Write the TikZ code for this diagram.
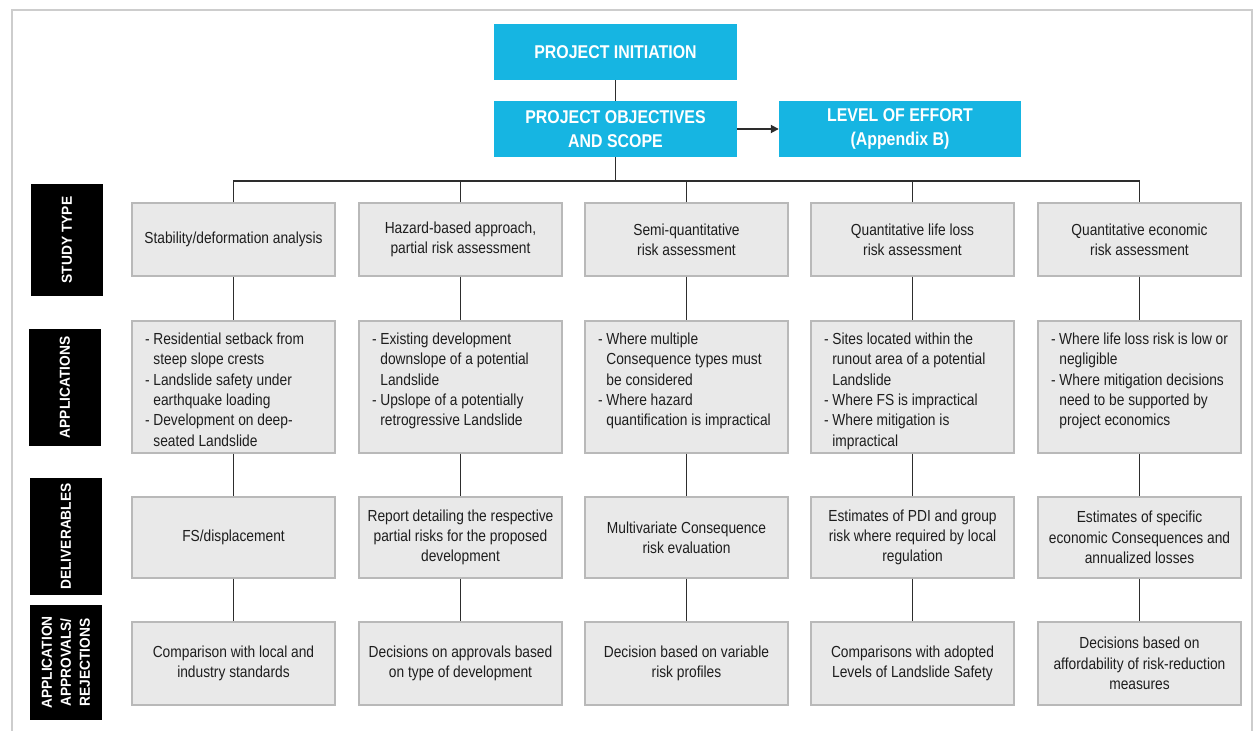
\documentclass[tikz,border=0pt]{standalone}
\usepackage{fontspec}
\setmainfont{Liberation Sans}[FakeStretch=0.86]
\newfontfamily\lblfont{Liberation Sans}[FakeStretch=0.95]
\usetikzlibrary{arrows.meta}
\definecolor{cyanbox}{RGB}{22,181,226}
\definecolor{grayfill}{RGB}{233,233,233}
\definecolor{grayline}{RGB}{185,185,185}
\definecolor{conn}{RGB}{45,45,45}
\definecolor{framecol}{RGB}{205,205,205}
\definecolor{txt}{RGB}{30,30,30}
\newcommand\ind{\phantom{-\ }}
\newcommand\apptext[1]{\parbox[c][108pt][t]{177pt}{\raggedright #1}}
\begin{document}
\begin{tikzpicture}[x=1pt,y=-1pt,
 hbox/.style={fill=cyanbox, text=white, font=\fontsize{18.5}{24}\selectfont\bfseries, align=center, minimum width=243pt, minimum height=56pt, inner sep=0pt},
 gbox/.style={fill=grayfill, draw=grayline, line width=1.3pt, text=txt, font=\fontsize{16}{20.3}\selectfont, align=center, minimum width=203pt, inner sep=0pt},
 abox/.style={fill=grayfill, draw=grayline, line width=1.3pt, text=txt, font=\fontsize{16}{20.3}\selectfont, minimum width=203pt, minimum height=132pt, inner xsep=13pt, inner ysep=12pt},
 lbl/.style={fill=black, text=white, font=\lblfont\fontsize{14.5}{19}\selectfont\bfseries, align=center, rotate=90, inner sep=0pt, minimum height=72pt},
 link/.style={draw=conn, line width=1.8pt}]
\useasboundingbox (0,0) rectangle (1254,731);
\draw[framecol, line width=1.5pt] (12,731) -- (12,10) -- (1252,10) -- (1252,731);

% header boxes
\node[hbox] (init) at (615.5,52) {PROJECT INITIATION};
\node[hbox] (obj) at (615.5,129) {PROJECT OBJECTIVES\\AND SCOPE};
\node[hbox, minimum width=242pt] (loe) at (900,129) {LEVEL OF EFFORT\\(Appendix B)};

% row labels
\node[lbl, minimum width=112pt] (lst) at (67,240) {STUDY TYPE};
\node[lbl, minimum width=117pt] (lap) at (65,387.5) {APPLICATIONS};
\node[lbl, minimum width=117pt] (lde) at (66,536.5) {DELIVERABLES};
\node[lbl, minimum width=115pt] (lpr) at (66,662.5) {APPLICATION\\APPROVALS/\\REJECTIONS};

% study type row
\node[gbox, minimum height=73pt] (s1) at (233.5,239.5) {Stability/deformation analysis};
\node[gbox, minimum height=73pt] (s2) at (460.5,239.5) {Hazard-based approach,\\partial risk assessment};
\node[gbox, minimum height=73pt] (s3) at (686.5,239.5) {Semi-quantitative\\risk assessment};
\node[gbox, minimum height=73pt] (s4) at (912.5,239.5) {Quantitative life loss\\risk assessment};
\node[gbox, minimum height=73pt] (s5) at (1139.5,239.5) {Quantitative economic\\risk assessment};

% applications row
\node[abox] (a1) at (233.5,387) {\apptext{- Residential setback from\\\ind steep slope crests\\- Landslide safety under\\\ind earthquake loading\\- Development on deep-\\\ind seated Landslide}};
\node[abox] (a2) at (460.5,387) {\apptext{- Existing development\\\ind downslope of a potential\\\ind Landslide\\- Upslope of a potentially\\\ind retrogressive Landslide}};
\node[abox] (a3) at (686.5,387) {\apptext{- Where multiple\\\ind Consequence types must\\\ind be considered\\- Where hazard\\\ind quantification is impractical}};
\node[abox] (a4) at (912.5,387) {\apptext{- Sites located within the\\\ind runout area of a potential\\\ind Landslide\\- Where FS is impractical\\- Where mitigation is\\\ind impractical}};
\node[abox] (a5) at (1139.5,387) {\apptext{- Where life loss risk is low or\\\ind negligible\\- Where mitigation decisions\\\ind need to be supported by\\\ind project economics}};

% deliverables row
\node[gbox, minimum height=81pt] (d1) at (233.5,537.5) {FS/displacement};
\node[gbox, minimum height=81pt] (d2) at (460.5,537.5) {Report detailing the respective\\partial risks for the proposed\\development};
\node[gbox, minimum height=81pt] (d3) at (686.5,537.5) {Multivariate Consequence\\risk evaluation};
\node[gbox, minimum height=81pt] (d4) at (912.5,537.5) {Estimates of PDI and group\\risk where required by local\\regulation};
\node[gbox, minimum height=81pt] (d5) at (1139.5,537.5) {Estimates of specific\\economic Consequences and\\annualized losses};

% approvals row
\node[gbox, minimum height=83pt] (p1) at (233.5,663.5) {Comparison with local and\\industry standards};
\node[gbox, minimum height=83pt] (p2) at (460.5,663.5) {Decisions on approvals based\\on type of development};
\node[gbox, minimum height=83pt] (p3) at (686.5,663.5) {Decision based on variable\\risk profiles};
\node[gbox, minimum height=83pt] (p4) at (912.5,663.5) {Comparisons with adopted\\Levels of Landslide Safety};
\node[gbox, minimum height=83pt] (p5) at (1139.5,663.5) {Decisions based on\\affordability of risk-reduction\\measures};

% connectors
\coordinate (bus) at (615.5,181);
\draw[link] (init.south) -- (obj.north);
\draw[link, -{Triangle[length=8pt,width=8pt]}] (obj.east) -- (loe.west);
\draw[link] (obj.south) -- (bus);
\draw[link] (s1.north) |- (bus) -| (s5.north);
\draw[link] (s2.north) -- (s2.north |- bus);
\draw[link] (s3.north) -- (s3.north |- bus);
\draw[link] (s4.north) -- (s4.north |- bus);
\foreach \i in {1,...,5}{
  \draw[link] (s\i.south) -- (a\i.north);
  \draw[link] (a\i.south) -- (d\i.north);
  \draw[link] (d\i.south) -- (p\i.north);
}
\end{tikzpicture}
\end{document}
